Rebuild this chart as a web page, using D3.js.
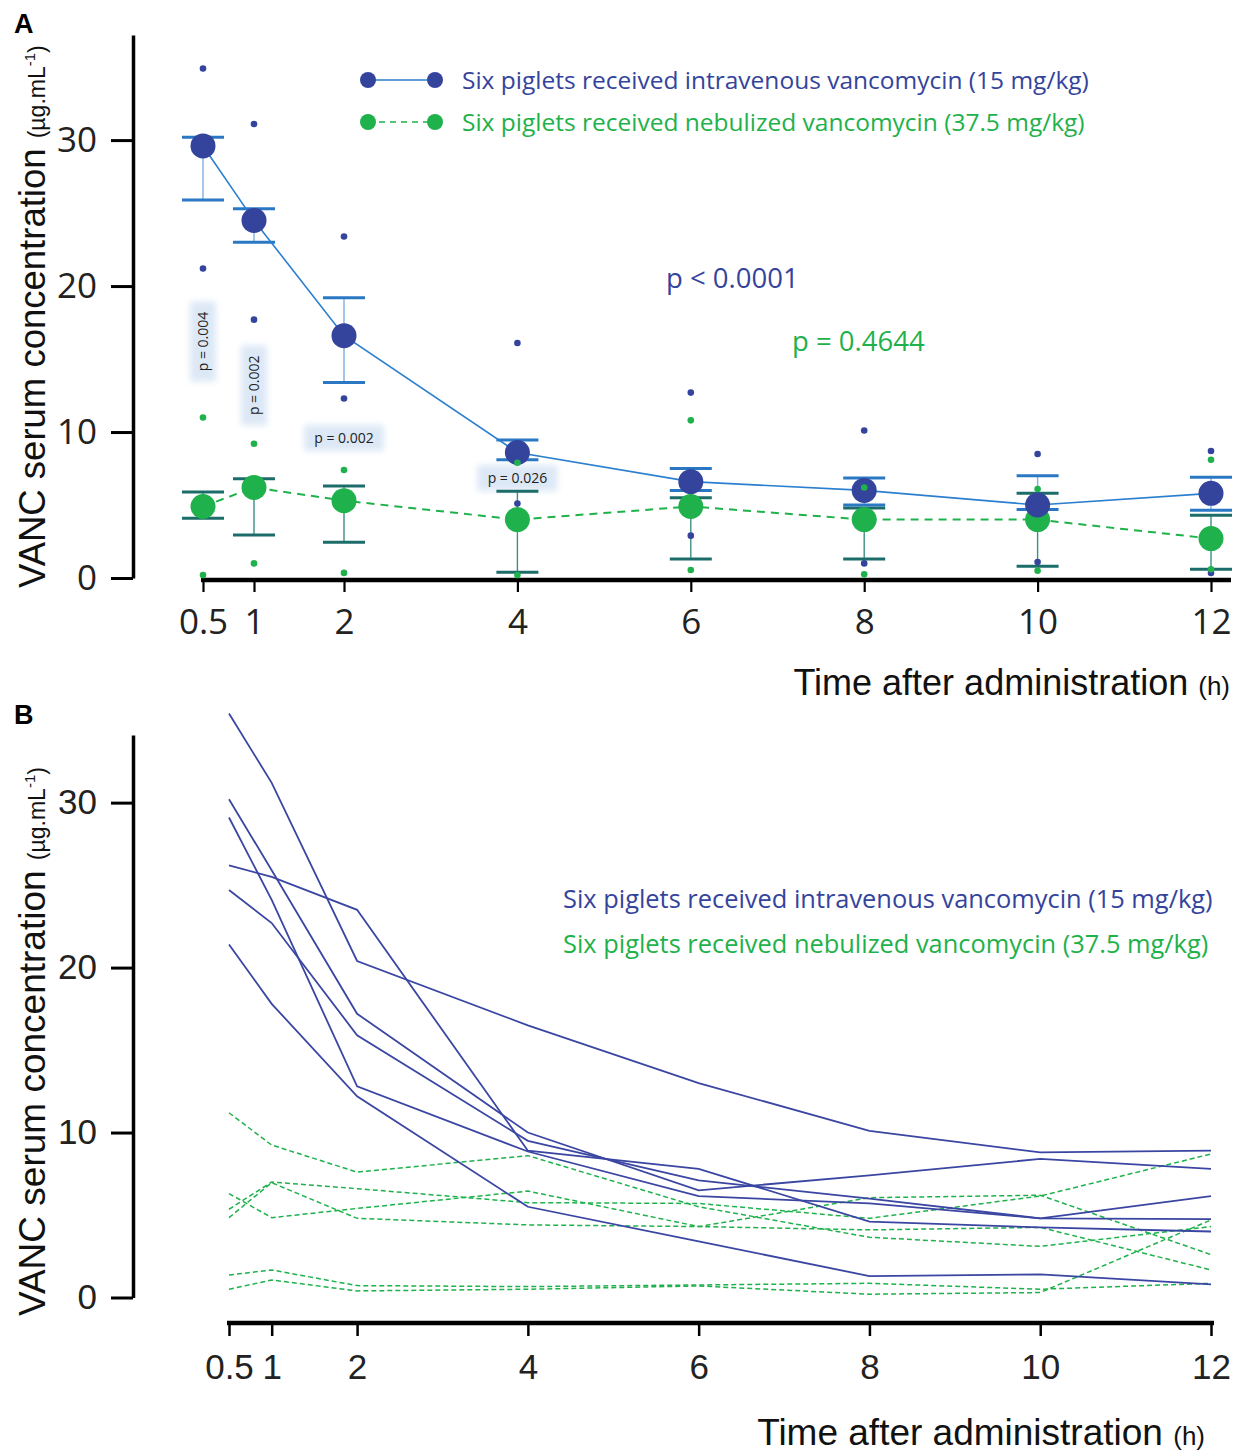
<!DOCTYPE html>
<html>
<head>
<meta charset="utf-8">
<script src="https://cdn.jsdelivr.net/npm/d3@7"></script>
<style>
body { margin: 0; background: #fff; }
</style>
</head>
<body>
<div id="chart"></div>
<script>
// sampling times (h)
var times = [0.5, 1, 2, 4, 6, 8, 10, 12];

// panel A: means, error bar ends and min/max dots
var ivMean  = [29.6, 24.5, 16.6, 8.6, 6.6, 6.0, 5.0, 5.8];
var ivUpper = [30.2, 25.3, 19.2, 9.45, 7.5, 6.85, 7.0, 6.9];
var ivLower = [25.9, 23.0, 13.4, 8.1, 6.0, 5.0, 4.7, 4.65];
var ivMax   = [34.9, 31.1, 23.4, 16.1, 12.7, 10.1, 8.5, 8.7];
var ivMin   = [21.2, 17.7, 12.3, 5.1, 2.9, 1.0, 1.1, 0.35];

var nebMean  = [4.9, 6.2, 5.3, 4.0, 4.9, 4.0, 4.0, 2.7];
var nebUpper = [5.9, 6.8, 6.3, 5.95, 5.5, 4.8, 5.8, 4.3];
var nebLower = [4.1, 2.95, 2.45, 0.4, 1.3, 1.3, 0.8, 0.6];
var nebMax   = [11.0, 9.2, 7.4, 7.9, 10.8, 6.2, 6.1, 8.1];
var nebMin   = [0.2, 1.0, 0.35, 0.2, 0.55, 0.25, 0.5, 0.6];

// pairwise p values shown in panel A
var pLabels = [
  {t: 0.5, v: 16.2, text: "p = 0.004", vertical: true},
  {t: 1, v: 13.2, text: "p = 0.002", vertical: true},
  {t: 2, v: 9.6, text: "p = 0.002", vertical: false},
  {t: 4, v: 6.85, text: "p = 0.026", vertical: false}
];

// panel B: individual piglets
var ivPiglets = [
  [35.4, 31.2, 20.4, 16.5, 13.0, 10.1, 8.8, 8.9],
  [26.2, 25.5, 23.5, 8.9, 7.8, 4.6, 4.25, 4.0],
  [30.2, 25.9, 17.2, 10.0, 6.5, 7.4, 8.4, 7.8],
  [29.1, 24.1, 12.8, 8.85, 6.15, 5.7, 4.8, 4.75],
  [24.7, 22.7, 15.9, 9.5, 7.1, 6.0, 4.8, 6.15],
  [21.4, 17.8, 12.2, 5.5, 3.4, 1.3, 1.4, 0.8]
];
var nebPiglets = [
  [11.2, 9.24, 7.6, 8.6, 5.5, 3.65, 3.1, 4.3],
  [6.3, 4.84, 5.4, 6.45, 4.3, 6.05, 6.2, 2.6],
  [5.35, 7.0, 6.6, 5.75, 5.7, 4.8, 6.15, 8.7],
  [4.84, 6.96, 4.8, 4.4, 4.3, 4.1, 4.25, 1.67],
  [1.36, 1.67, 0.72, 0.66, 0.76, 0.86, 0.5, 0.86],
  [0.5, 1.06, 0.4, 0.5, 0.7, 0.2, 0.3, 4.7]
];

var yTicks = [0, 10, 20, 30];
var ivLabel = "Six piglets received intravenous vancomycin (15 mg/kg)";
var nebLabel = "Six piglets received nebulized vancomycin (37.5 mg/kg)";

var blue = "#34449c", blueLine = "#2b7fcf", blueCap = "#2a78c4";
var green = "#1fb14b", teal = "#1c6c69";
var sans = "'Liberation Sans', Arial, sans-serif";
var calibri = "'Open Sans', sans-serif";

var svg = d3.select("#chart").append("svg")
  .attr("width", 1242)
  .attr("height", 1452);

var defs = svg.append("defs");
defs.append("filter").attr("id", "glow")
  .attr("x", "-30%").attr("y", "-30%").attr("width", "160%").attr("height", "160%")
  .append("feGaussianBlur").attr("stdDeviation", 3);

// ---------------- panel A ----------------
var xA = d3.scaleLinear().domain([0.5, 1, 2, 12]).range([203, 254, 344, 1211]);
var yA = d3.scaleLinear().domain([0, 37.2]).range([578, 35]);

var gA = svg.append("g");

gA.append("text").attr("x", 14).attr("y", 33)
  .style("font", "bold 27px " + sans).text("A");

var yAxisA = gA.append("g")
  .attr("transform", "translate(133,0)")
  .call(d3.axisLeft(yA).tickValues(yTicks).tickSize(22).tickPadding(14).tickSizeOuter(0));
yAxisA.select(".domain").attr("stroke-width", 3.5);
yAxisA.selectAll(".tick line").attr("stroke-width", 3);
yAxisA.selectAll(".tick text").style("font", "35px " + calibri).attr("fill", "#222");

var xAxisA = gA.append("g")
  .attr("transform", "translate(0,580)")
  .call(d3.axisBottom(xA).tickValues(times).tickSize(12).tickPadding(17).tickFormat(d => d));
xAxisA.select(".domain").remove();
xAxisA.selectAll(".tick line").attr("stroke-width", 2.2);
xAxisA.selectAll(".tick text").style("font", "35px " + calibri).attr("fill", "#222");
gA.append("line")
  .attr("x1", xA(0.5) - 2).attr("x2", xA(12) + 20)
  .attr("y1", 580).attr("y2", 580)
  .attr("stroke", "#000").attr("stroke-width", 4.5);

var titleA = gA.append("text")
  .attr("x", 1230).attr("y", 695).attr("text-anchor", "end")
  .style("font", "36px " + sans).attr("fill", "#111");
titleA.append("tspan").text("Time after administration ");
titleA.append("tspan").style("font-size", "26px").text("(h)");

function yTitle(g, x, y, size) {
  var t = g.append("text")
    .attr("transform", "translate(" + x + "," + y + ") rotate(-90)")
    .style("font", size + "px " + sans).attr("fill", "#111");
  t.append("tspan").text("VANC serum concentration ");
  t.append("tspan").style("font-size", "23px").text("(µg.mL");
  t.append("tspan").style("font-size", "15px").attr("dy", -10).text("-1");
  t.append("tspan").style("font-size", "23px").attr("dy", 10).text(")");
}
yTitle(gA, 45, 588, 36.5);

// p value labels with a pale glow behind
pLabels.forEach(function(p) {
  var g = gA.append("g").attr("transform",
    "translate(" + xA(p.t) + "," + yA(p.v) + ")" + (p.vertical ? " rotate(-90)" : ""));
  g.append("rect").attr("x", -40).attr("y", -13).attr("width", 80).attr("height", 26)
    .attr("fill", "#dde8f6").attr("filter", "url(#glow)");
  g.append("text").attr("text-anchor", "middle").attr("dy", "0.35em")
    .style("font", "14px " + calibri).attr("fill", "#222").text(p.text);
});

var meanLine = d3.line().x((d, i) => xA(times[i])).y(d => yA(d));

// error whiskers (thin)
function whiskers(upper, lower, color) {
  gA.append("g").selectAll("line").data(times).join("line")
    .attr("x1", d => xA(d)).attr("x2", d => xA(d))
    .attr("y1", (d, i) => yA(upper[i])).attr("y2", (d, i) => yA(lower[i]))
    .attr("stroke", color).attr("stroke-width", 1.4);
}
whiskers(nebUpper, nebLower, "#3d8f83");
whiskers(ivUpper, ivLower, "#7fb0e0");

function caps(vals, color) {
  gA.append("g").selectAll("line").data(times).join("line")
    .attr("x1", d => xA(d) - 21).attr("x2", d => xA(d) + 21)
    .attr("y1", (d, i) => yA(vals[i])).attr("y2", (d, i) => yA(vals[i]))
    .attr("stroke", color).attr("stroke-width", 3);
}
caps(nebUpper, teal);
caps(nebLower, teal);
caps(ivUpper, blueCap);
caps(ivLower, blueCap);

gA.append("path").datum(nebMean)
  .attr("d", meanLine).attr("fill", "none")
  .attr("stroke", green).attr("stroke-width", 2).attr("stroke-dasharray", "8,6");
gA.append("path").datum(ivMean)
  .attr("d", meanLine).attr("fill", "none")
  .attr("stroke", blueLine).attr("stroke-width", 1.6);

function dots(vals, color, r) {
  gA.append("g").selectAll("circle").data(vals).join("circle")
    .attr("cx", (d, i) => xA(times[i])).attr("cy", d => yA(d))
    .attr("r", r).attr("fill", color);
}
dots(nebMean, green, 12.5);
dots(ivMean, blue, 12.5);
dots(ivMax, blue, 3.3);
dots(ivMin, blue, 3.3);
dots(nebMax, green, 3.3);
dots(nebMin, green, 3.3);

// legend A
var legA = gA.append("g");
[{label: ivLabel, color: blue, line: blueLine, dash: null, y: 80},
 {label: nebLabel, color: green, line: green, dash: "6,5", y: 122}].forEach(function(d) {
  legA.append("line").attr("x1", 368).attr("x2", 435).attr("y1", d.y).attr("y2", d.y)
    .attr("stroke", d.line).attr("stroke-width", 1.6).attr("stroke-dasharray", d.dash);
  legA.selectAll(null).data([368, 435]).join("circle")
    .attr("cx", x => x).attr("cy", d.y).attr("r", 8).attr("fill", d.color);
  legA.append("text").attr("x", 462).attr("y", d.y).attr("dy", "0.35em")
    .style("font", "24.5px " + calibri).attr("fill", d.color).text(d.label);
});

gA.append("text").attr("x", 666).attr("y", 288)
  .style("font", "27.5px " + calibri).attr("fill", blue).text("p < 0.0001");
gA.append("text").attr("x", 792).attr("y", 351)
  .style("font", "27.5px " + calibri).attr("fill", green).text("p = 0.4644");

// ---------------- panel B ----------------
var xB = d3.scaleLinear().domain([0.5, 12]).range([229, 1211]);
var yB = d3.scaleLinear().domain([0, 34.1]).range([1297.5, 735]);

var gB = svg.append("g");

gB.append("text").attr("x", 14).attr("y", 724)
  .style("font", "bold 27px " + sans).text("B");

var yAxisB = gB.append("g")
  .attr("transform", "translate(133,0)")
  .call(d3.axisLeft(yB).tickValues(yTicks).tickSize(22).tickPadding(14).tickSizeOuter(0));
yAxisB.select(".domain").attr("stroke-width", 3.5);
yAxisB.selectAll(".tick line").attr("stroke-width", 3);
yAxisB.selectAll(".tick text").style("font", "35px " + sans).attr("fill", "#222");

var xAxisB = gB.append("g")
  .attr("transform", "translate(0,1323)")
  .call(d3.axisBottom(xB).tickValues(times).tickSize(13).tickPadding(18).tickFormat(d => d));
xAxisB.select(".domain").remove();
xAxisB.selectAll(".tick line").attr("stroke-width", 2.5);
xAxisB.selectAll(".tick text").style("font", "35px " + sans).attr("fill", "#222");
gB.append("line")
  .attr("x1", xB(0.5) - 2).attr("x2", xB(12) + 3)
  .attr("y1", 1323).attr("y2", 1323)
  .attr("stroke", "#000").attr("stroke-width", 4.5);

var titleB = gB.append("text")
  .attr("x", 1205).attr("y", 1445).attr("text-anchor", "end")
  .style("font", "37px " + sans).attr("fill", "#111");
titleB.append("tspan").text("Time after administration ");
titleB.append("tspan").style("font-size", "26px").text("(h)");

yTitle(gB, 45, 1316, 37);

var pigLine = d3.line().x((d, i) => xB(times[i])).y(d => yB(d));

gB.append("g").selectAll("path").data(nebPiglets).join("path")
  .attr("d", pigLine).attr("fill", "none")
  .attr("stroke", green).attr("stroke-width", 1.5).attr("stroke-dasharray", "5,3");
gB.append("g").selectAll("path").data(ivPiglets).join("path")
  .attr("d", pigLine).attr("fill", "none")
  .attr("stroke", "#3a46a2").attr("stroke-width", 1.8);

gB.append("text").attr("x", 563).attr("y", 899).attr("dy", "0.35em")
  .style("font", "25.4px " + calibri).attr("fill", blue).text(ivLabel);
gB.append("text").attr("x", 563).attr("y", 944).attr("dy", "0.35em")
  .style("font", "25.4px " + calibri).attr("fill", green).text(nebLabel);
</script>
</body>
</html>
